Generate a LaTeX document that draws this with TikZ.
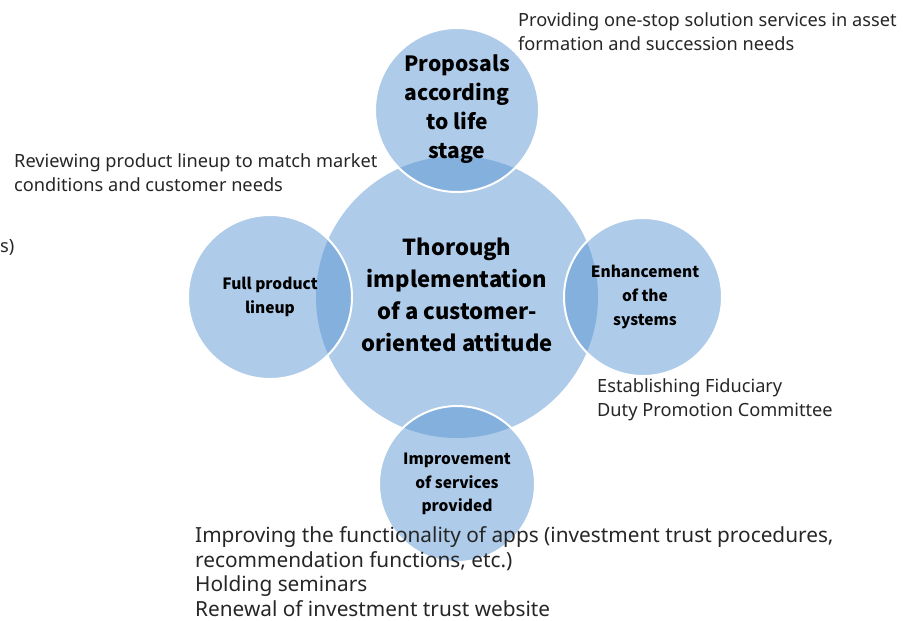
\documentclass[tikz,border=0pt]{standalone}
\usepackage{fontspec}
\setmainfont{Noto Sans}
\newfontfamily\labelfont{Noto Sans CJK JP}
\definecolor{bubble}{HTML}{AECBE9}
\definecolor{lens}{HTML}{84B0DE}
\begin{document}
\begin{tikzpicture}[x=1pt,y=-1pt,
  note/.style={anchor=base west, align=left, inner sep=0pt, text=black!85,
    font=\fontsize{18.2}{23.5}\selectfont},
  bignote/.style={anchor=base west, align=left, inner sep=0pt, text=black!85,
    font=\fontsize{20.8}{24.5}\selectfont},
  rim/.style={draw=white, line width=2pt},
  label/.style={align=center, inner sep=0pt}]
\useasboundingbox (0,0) rectangle (903,621);

% circle centres
\coordinate (core) at (457,297);
\coordinate (top) at (457,110);
\coordinate (left) at (270,297);
\coordinate (right) at (643,297);
\coordinate (bottom) at (457,484);

% base fills
\fill[bubble] (core) circle[radius=141];
\fill[bubble] (top) circle[radius=82];
\fill[bubble] (left) circle[radius=82];
\fill[bubble] (right) circle[radius=79];
\fill[bubble] (bottom) circle[radius=78];

% darker overlaps with the central circle
\begin{scope}
  \clip (core) circle[radius=141];
  \fill[lens] (top) circle[radius=82];
  \fill[lens] (left) circle[radius=82];
  \fill[lens] (right) circle[radius=79];
  \fill[lens] (bottom) circle[radius=78];
\end{scope}

% white rims of the outer circles
\draw[rim] (top) circle[radius=82];
\draw[rim] (left) circle[radius=82];
\draw[rim] (right) circle[radius=79];
\draw[rim] (bottom) circle[radius=78];

% circle labels
\node[label, font=\labelfont\bfseries\fontsize{21}{29}\selectfont] (ltop) at (457,109)
  {Proposals\\according\\to life\\stage};
\node[label, font=\labelfont\bfseries\fontsize{22}{32}\selectfont] (lcore) at (457,295)
  {Thorough\\implementation\\of a customer-\\oriented attitude};
\node[label, font=\labelfont\bfseries\fontsize{15.5}{24}\selectfont] (lleft) at (270,297)
  {Full product\\lineup};
\node[label, font=\labelfont\bfseries\fontsize{15.5}{24}\selectfont] (lright) at (645,297)
  {Enhancement\\of the\\systems};
\node[label, font=\labelfont\bfseries\fontsize{15.5}{23.5}\selectfont] (lbottom) at (457,484)
  {Improvement\\of services\\provided};

% notes (anchored at the baseline of their last line)
\node[note] (ntop) at (518,50)
  {Providing one-stop solution services in asset\\formation and succession needs};
\node[note] (nleft) at (14,191)
  {Reviewing product lineup to match market\\conditions and customer needs};
\node[note] (ncut) at (0,252) {s)};
\node[note] (nright) at (597,416)
  {Establishing Fiduciary\\Duty Promotion Committee};
\node[bignote] (nbottom) at (195,616)
  {Improving the functionality of apps (investment trust procedures,\\recommendation functions, etc.)\\Holding seminars\\Renewal of investment trust website};
\end{tikzpicture}
\end{document}
